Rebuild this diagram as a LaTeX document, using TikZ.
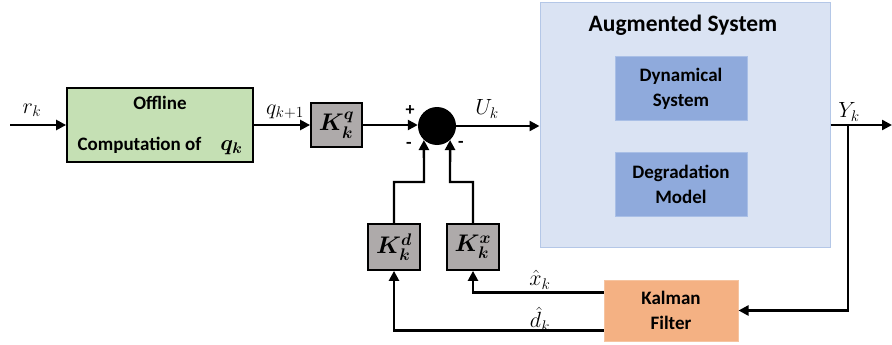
\RequirePackage{fix-cm}
\documentclass[tikz,border=0pt]{standalone}
\usepackage{fontspec}
\usepackage{amsmath}
\usepackage{bm}
\setmainfont{Carlito}
\usetikzlibrary{arrows.meta,calc}

\definecolor{boxgreen}{HTML}{C5E0B4}
\definecolor{boxgray}{HTML}{AEAAAA}
\definecolor{augfill}{HTML}{DAE3F3}
\definecolor{augline}{HTML}{B4C7E7}
\definecolor{subfill}{HTML}{8FAADC}
\definecolor{subline}{HTML}{A9BFE6}
\definecolor{kalfill}{HTML}{F4B183}
\definecolor{kalline}{HTML}{F6C4A0}

\tikzset{
  boxtext/.style={font=\bfseries\fontsize{19}{25}\selectfont, align=center},
  block/.style={draw=black, line width=1.8pt, boxtext, inner sep=0pt},
  gainbox/.style={block, fill=boxgray, minimum width=51pt, minimum height=44pt,
                  font=\fontsize{24}{26}\selectfont},
  subbox/.style={draw=subline, line width=1pt, fill=subfill, boxtext,
                 minimum width=132pt, minimum height=64pt, inner sep=0pt},
  arr/.style={line width=2.4pt, -{Triangle[length=10pt,width=10pt]}},
  lab/.style={font=\fontsize{22}{24}\selectfont, inner sep=0pt},
  sgn/.style={font=\bfseries\fontsize{18}{18}\selectfont, inner sep=0pt}
}

\begin{document}
\begin{tikzpicture}[x=1pt,y=-1pt]
\useasboundingbox (0,0) rectangle (892,345);

% plant with its two sub-models
\node[draw=augline, line width=1pt, fill=augfill, minimum width=290pt,
      minimum height=244pt, inner sep=0pt] (aug) at (685,125) {};
\node[font=\bfseries\fontsize{23.5}{27}\selectfont, inner sep=0pt] (augtitle) at (683,25) {Augmented System};
\node[subbox] (dyn) at (681,88.5) {Dynamical\\System};
\node[subbox] (deg) at (681,184.5) {Degradation\\Model};

% reference generation and feedforward gain
\node[block, fill=boxgreen, minimum width=186pt, minimum height=74pt] (off) at (160,125)
  {Offline\\[16pt]Computation of\quad{\fontsize{22}{24}\selectfont$\bm{q_k}$}};
\node[gainbox] (kq) at (336.5,125) {$\bm{K_k^q}$};

% summing junction
\node[circle, fill=black, minimum size=38pt, inner sep=0pt] (sum) at (437,126) {};
\node[sgn] (plus) at (410,111) {+};
\node[sgn] (minl) at (409,145) {-};
\node[sgn] (minr) at (461,144) {-};

% feedback gains and estimator
\node[gainbox, minimum width=52pt, minimum height=46pt] (kd) at (394,247) {$\bm{K_k^d}$};
\node[gainbox, minimum width=52pt, minimum height=46pt] (kx) at (473,247) {$\bm{K_k^x}$};
\node[draw=kalline, line width=1pt, fill=kalfill, boxtext, minimum width=134pt,
      minimum height=61pt, inner sep=0pt] (kal) at (671,310.5) {Kalman\\Filter};

% helper points
\coordinate (rin) at (10,125);
\coordinate (yout) at (892,125);
\coordinate (tap) at (848,125);
\coordinate (jl) at (424,182);
\coordinate (jr) at (450,182);
\coordinate (xo) at ($(kal.west)+(0,-18)$);
\coordinate (do) at ($(kal.west)+(0,20)$);

% forward path
\draw[arr] (rin) -- (off.west);
\draw[arr] (off.east) -- (kq.west);
\draw[arr] (kq.east) -- (kq.east -| sum.west);
\draw[arr] (sum.east) -- (sum.east -| aug.west);
\draw[arr] (aug.east |- tap) -- (yout);

% measurement to estimator
\draw[arr] (tap) |- (kal.east);

% estimates to gains
\draw[arr] (xo) -| (kx.south);
\draw[arr] (do) -| (kd.south);

% gains to junction
\draw[arr] (kd.north) |- (jl) -- (sum.-133);
\draw[arr] (kx.north) |- (jr) -- (sum.-47);

% signal labels
\node[lab] (lr) at (32,110) {$r_k$};
\node[lab] (lq) at (285,112) {$q_{k+1}$};
\node[lab] (lu) at (487,109) {$U_k$};
\node[lab] (ly) at (849,112) {$Y_k$};
\node[lab] (lx) at (540,280) {$\hat{x}_k$};
\node[lab] (ld) at (540,319) {$\hat{d}_k$};
\end{tikzpicture}
\end{document}
